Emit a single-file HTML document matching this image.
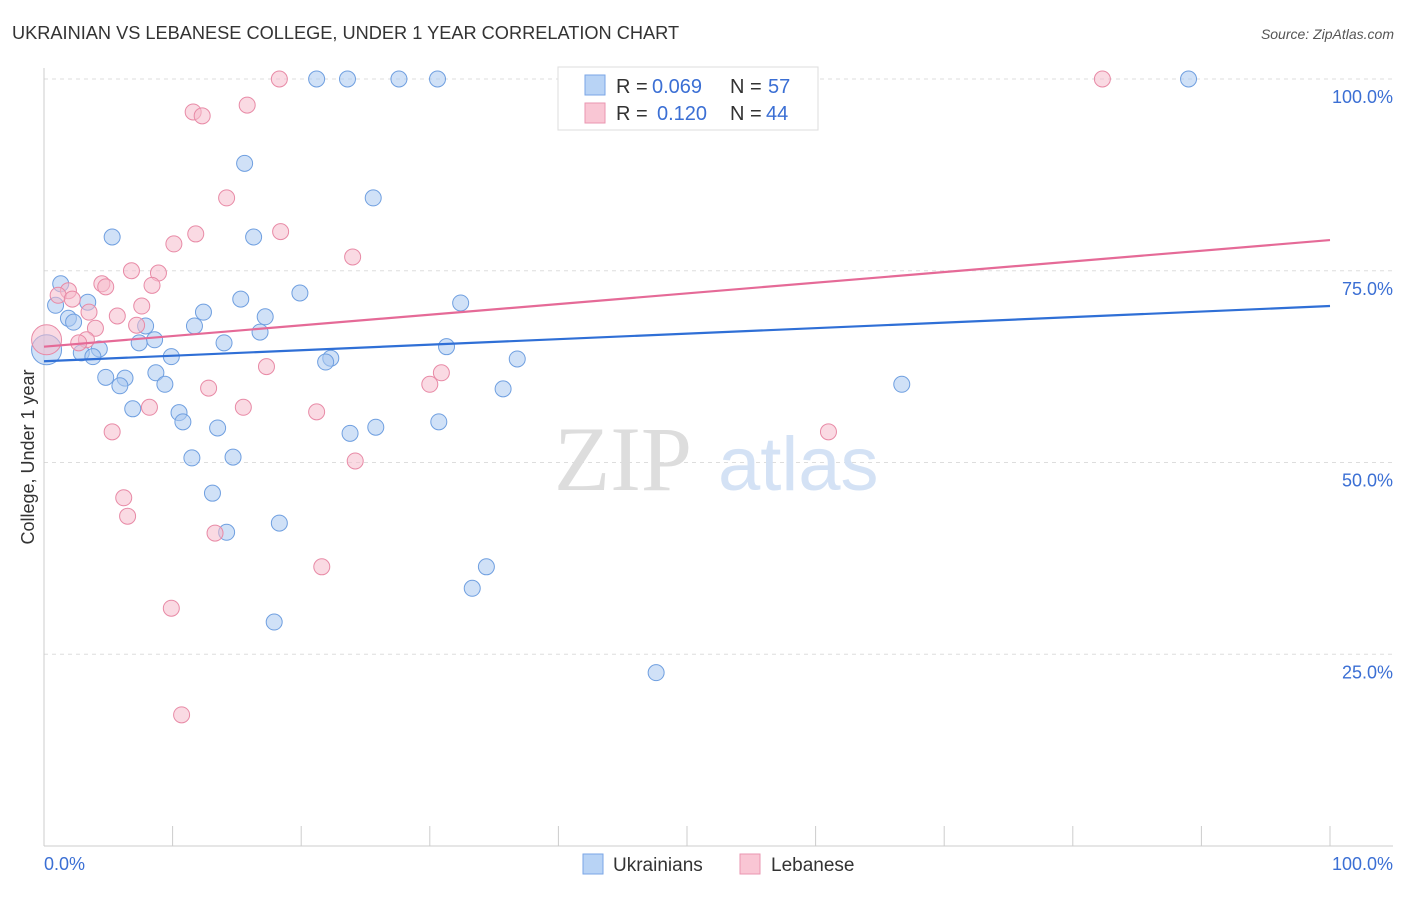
<!DOCTYPE html>
<html><head><meta charset="utf-8"><style>
body{margin:0;background:#fff;font-family:"Liberation Sans",sans-serif;}
</style></head><body>
<svg width="1406" height="892" xmlns="http://www.w3.org/2000/svg" font-family="Liberation Sans, sans-serif">
<text x="12" y="39" font-size="18.2" fill="#333">UKRAINIAN VS LEBANESE COLLEGE, UNDER 1 YEAR CORRELATION CHART</text>
<text x="1394" y="39" font-size="14" fill="#555" text-anchor="end" font-style="italic">Source: ZipAtlas.com</text>
<g id="grid"></g>
<line x1="44" y1="68" x2="44" y2="846" stroke="#ccc"/>
<line x1="44" y1="846" x2="1393" y2="846" stroke="#ccc"/>
<g id="xticks"></g>
<g id="ylabels"></g>
<text x="554" y="490" font-size="92" fill="#ddd" font-family="Liberation Serif, serif">ZIP</text>
<text x="718" y="490" font-size="76" fill="#d4e2f5">atlas</text>
<text x="34" y="457" font-size="18" fill="#333" text-anchor="middle" transform="rotate(-90 34 457)">College, Under 1 year</text>
<text x="44" y="870" font-size="18" fill="#3b6fd4">0.0%</text>
<text x="1393" y="870" font-size="18" fill="#3b6fd4" text-anchor="end">100.0%</text>
<g id="pts"></g>
<g id="trends"></g>
<g font-size="20">
<rect x="558" y="67" width="260" height="63" fill="#fff" stroke="#ddd"/>
<rect x="585" y="75" width="20" height="20" fill="#b8d3f5" stroke="#7aa6e6"/>
<rect x="585" y="103" width="20" height="20" fill="#f9c6d4" stroke="#ea96b0"/>
<text x="616" y="93" fill="#333">R =</text><text x="652" y="93" fill="#3b6fd4">0.069</text>
<text x="730" y="93" fill="#333">N =</text><text x="768" y="93" fill="#3b6fd4">57</text>
<text x="616" y="120" fill="#333">R =</text><text x="657" y="120" fill="#3b6fd4">0.120</text>
<text x="730" y="120" fill="#333">N =</text><text x="766" y="120" fill="#3b6fd4">44</text>
</g>
<g>
<rect x="583" y="854" width="20" height="20" fill="#b8d3f5" stroke="#7aa6e6"/>
<text x="613" y="871" font-size="19" fill="#333">Ukrainians</text>
<rect x="740" y="854" width="20" height="20" fill="#f9c6d4" stroke="#ea96b0"/>
<text x="771" y="871" font-size="19" fill="#333">Lebanese</text>
</g>
</svg>
<script>
const yTicks=[100,75,50,25];
const yTickLabels=["100.0%","75.0%","50.0%","25.0%"];
const xTicks=[0,10,20,30,40,50,60,70,80,90,100];
const ukrX=[21.2,23.6,27.6,30.6,89.0,15.6,25.6,5.3,16.3,1.3,3.4,0.9,19.9,15.3,32.4,1.9,2.3,12.4,17.2,7.9,11.7,16.8,8.6,7.4,14.0,31.3,4.3,2.9,3.8,9.9,22.3,21.9,36.8,4.8,8.7,6.3,5.9,9.4,35.7,66.7,6.9,10.5,10.8,30.7,13.5,25.8,23.8,11.5,14.7,13.1,14.2,18.3,34.4,33.3,17.9,47.6,0.2];
const ukrY=[100,100,100,100,100,89.0,84.5,79.4,79.4,73.3,70.9,70.5,72.1,71.3,70.8,68.8,68.3,69.6,69.0,67.8,67.8,67.0,66.0,65.6,65.6,65.1,64.8,64.3,63.8,63.8,63.6,63.1,63.5,61.1,61.7,61.0,60.0,60.2,59.6,60.2,57.0,56.5,55.3,55.3,54.5,54.6,53.8,50.6,50.7,46.0,40.9,42.1,36.4,33.6,29.2,22.6,64.7];
const lebX=[18.3,82.3,15.8,11.6,12.3,14.2,11.8,18.4,10.1,24.0,6.8,8.9,8.4,4.5,4.8,1.9,1.1,2.2,3.5,7.6,5.7,4.0,7.2,3.3,2.7,17.3,30.0,30.9,12.8,21.2,15.5,8.2,5.3,61.0,24.2,6.2,6.5,13.3,21.6,9.9,10.7,0.2];
const lebY=[100,100,96.6,95.7,95.2,84.5,79.8,80.1,78.5,76.8,75.0,74.7,73.1,73.3,72.9,72.4,71.8,71.3,69.6,70.4,69.1,67.5,67.9,66.0,65.6,62.5,60.2,61.7,59.7,56.6,57.2,57.2,54.0,54.0,50.2,45.4,43.0,40.8,36.4,31.0,17.1,66.0];
const trendIntercept=[63.2,65.1];
const trendSlope=[0.072,0.139];
const NS="http://www.w3.org/2000/svg";
const X=v=>44+v*12.86, Y=v=>846-v*7.67;
function mk(t,a,p){const e=document.createElementNS(NS,t);for(const k in a)e.setAttribute(k,a[k]);p.appendChild(e);return e;}
const grid=document.getElementById('grid'),yl=document.getElementById('ylabels'),xt=document.getElementById('xticks');
yTicks.forEach((t,i)=>{const l=mk('line',{x1:44,x2:1393,y1:Y(t),y2:Y(t),stroke:'#ddd','stroke-dasharray':'4,4'},grid);


const tx=mk('text',{x:1393,y:Y(t)+24,'font-size':18,fill:'#3b6fd4','text-anchor':'end'},yl);tx.textContent=yTickLabels[i];

});
xTicks.forEach(t=>{const l=mk('line',{x1:X(t),x2:X(t),y1:826,y2:846,stroke:'#ccc'},xt);

});
const pts=document.getElementById('pts');
function series(xs,ys,fill,stroke,name){xs.forEach((x,i)=>{const big=(i===xs.length-1);const c=mk('circle',{cx:X(x),cy:Y(ys[i]),r:big?15:8,fill:fill,'fill-opacity':0.55,stroke:stroke,'stroke-width':1},pts);

});}
series(ukrX,ukrY,'#a9c8f0','#6f9fe0','ukrainian-point');
series(lebX,lebY,'#f6bccc','#e88aa6','lebanese-point');
const tr=document.getElementById('trends');const cols=['#2f6fd6','#e56a97'];const nm=['ukrainian-trend','lebanese-trend'];
trendIntercept.forEach((b,i)=>{const l=mk('line',{x1:X(0),y1:Y(b),x2:X(100),y2:Y(b+trendSlope[i]*100),stroke:cols[i],'stroke-width':2.2},tr);

});
</script>
</body></html>
